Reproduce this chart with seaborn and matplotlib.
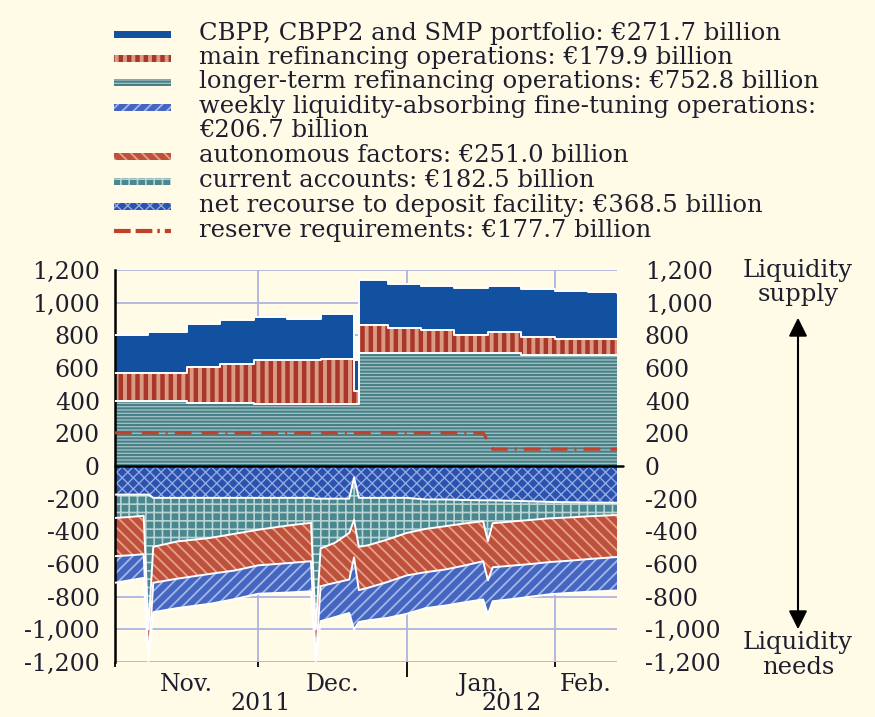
import matplotlib
matplotlib.use("Agg")
import matplotlib.pyplot as plt
import matplotlib.dates as mdates
from matplotlib.patches import Rectangle
from matplotlib.lines import Line2D
import numpy as np
import pandas as pd
import seaborn as sns

# liquidity supply (EUR billions), value holds until the next date
supply_dates = pd.to_datetime([
    "2011-11-01", "2011-11-08", "2011-11-16", "2011-11-23", "2011-11-30",
    "2011-12-07", "2011-12-14", "2011-12-21", "2011-12-22", "2011-12-28",
    "2012-01-04", "2012-01-11", "2012-01-18", "2012-01-25", "2012-02-01",
    "2012-02-08", "2012-02-14"])
ltro = [397, 397, 387, 387, 381, 381, 377, 377, 689, 689, 689, 689, 689, 677, 677, 677, 677]
mro = [174, 174, 220, 239, 267, 267, 279, 83, 177, 153, 141, 116, 130, 114, 102, 102, 102]
cbpp = [234, 251, 260, 265, 263, 249, 272, 190, 272, 275, 271, 286, 286, 290, 292, 285, 282]

reserve_dates = pd.to_datetime(["2011-11-01", "2012-01-17", "2012-01-19", "2012-02-14"])
reserve_req = [203, 203, 103, 103]

# liquidity needs (EUR billions)
needs_dates = pd.to_datetime([
    "2011-11-01", "2011-11-04", "2011-11-07", "2011-11-08", "2011-11-09",
    "2011-11-14", "2011-11-21", "2011-11-26", "2011-12-01", "2011-12-07",
    "2011-12-12", "2011-12-13", "2011-12-14", "2011-12-17", "2011-12-20",
    "2011-12-21", "2011-12-22", "2011-12-24", "2011-12-28", "2012-01-01",
    "2012-01-05", "2012-01-09", "2012-01-13", "2012-01-17", "2012-01-18",
    "2012-01-19", "2012-01-23", "2012-01-27", "2012-01-31", "2012-02-04",
    "2012-02-08", "2012-02-14"])
deposit = [175, 175, 175, 175, 195, 195, 195, 195, 195, 195, 195, 200, 200, 200, 200, 70,
           195, 195, 195, 195, 205, 205, 208, 210, 210, 210, 213, 216, 220, 222, 224, 225]
current_acc = [143, 137, 130, 825, 300, 267, 245, 220, 195, 170, 153, 800, 305, 270, 210, 260,
               300, 290, 255, 215, 180, 164, 144, 128, 250, 140, 127, 114, 100, 93, 84, 75]
autonomous = [234, 235, 235, 190, 220, 228, 220, 225, 218, 230, 235, 190, 231, 245, 285, 230,
              265, 260, 260, 260, 265, 265, 258, 245, 240, 270, 270, 270, 268, 265, 262, 257]
fine_tuning = [163, 153, 145, 5, 180, 180, 183, 175, 174, 180, 184, 5, 214, 210, 205, 440,
               195, 200, 220, 235, 220, 221, 225, 234, 209, 208, 205, 200, 197, 197, 200, 205]

legend_labels = [
    "CBPP, CBPP2 and SMP portfolio: \u20ac271.7 billion",
    "main refinancing operations: \u20ac179.9 billion",
    "longer-term refinancing operations: \u20ac752.8 billion",
    "weekly liquidity-absorbing fine-tuning operations:\n\u20ac206.7 billion",
    "autonomous factors: \u20ac251.0 billion",
    "current accounts: \u20ac182.5 billion",
    "net recourse to deposit facility: \u20ac368.5 billion",
    "reserve requirements: \u20ac177.7 billion",
]
month_labels = ["Nov.", "Dec.", "Jan.", "Feb."]
year_labels = ["2011", "2012"]

BG = "#FFFBE6"
TXT = "#1E1E2E"
GRID = "#AEB4E2"

# (face, hatch colour, hatch, hatch linewidth)
styles = {
    "cbpp": ("#1250A0", "#1250A0", None, 1.0),
    "mro": ("#DB9A84", "#A8372A", "||", 3.2),
    "ltro": ("#9EBDC1", "#457F85", "-----", 1.4),
    "fto": ("#4466C0", "#A3B6E8", "///", 1.3),
    "af": ("#BE513C", "#E6A08A", "\\\\\\", 1.3),
    "ca": ("#4A878E", "#B9D2D2", "++", 1.2),
    "df": ("#2A52AE", "#93A9E0", "xxx", 1.0),
}

sns.set_theme(style="white", rc={"figure.facecolor": BG, "axes.facecolor": BG,
                                 "savefig.facecolor": BG})
plt.rcParams["font.family"] = ["DejaVu Serif"]
plt.rcParams["hatch.linewidth"] = 1.3

W, H = 875, 717
fig = plt.figure(figsize=(W / 100, H / 100), dpi=100)
ax = fig.add_axes([115 / W, 1 - 662 / H, 502 / W, 392 / H])
ax.set_axisbelow(True)


def set_hatch_lw(artist, lw):
    if hasattr(artist, "set_hatch_linewidth"):
        artist.set_hatch_linewidth(lw)


def hatched(x, lo, hi, key, step=None):
    face, hc, hatch, hlw = styles[key]
    pc = ax.fill_between(x, lo, hi, step=step, facecolor=face, edgecolor=hc,
                         hatch=hatch, linewidth=0, zorder=2)
    set_hatch_lw(pc, hlw)


# supply side, stacked upwards
lv1 = np.array(ltro)
lv2 = lv1 + np.array(mro)
lv3 = lv2 + np.array(cbpp)
hatched(supply_dates, 0, lv1, "ltro", step="post")
hatched(supply_dates, lv1, lv2, "mro", step="post")
hatched(supply_dates, lv2, lv3, "cbpp", step="post")
for lv in (lv1, lv2, lv3):
    ax.plot(supply_dates, lv, drawstyle="steps-post", color="white", lw=1.4, zorder=3)

# needs side, stacked downwards
b1 = -np.array(deposit)
b2 = b1 - np.array(current_acc)
b3 = b2 - np.array(autonomous)
b4 = b3 - np.array(fine_tuning)
hatched(needs_dates, 0, b1, "df")
hatched(needs_dates, b1, b2, "ca")
hatched(needs_dates, b2, b3, "af")
hatched(needs_dates, b3, b4, "fto")
for b in (b1, b2, b3, b4):
    ax.plot(needs_dates, b, color="white", lw=1.4, zorder=3)

sns.lineplot(x=reserve_dates, y=reserve_req, ax=ax, color="#C0402A", lw=2.2,
             linestyle=(0, (5.5, 3.3, 5.5, 2.3, 0.65, 2.3)), zorder=4)

ax.axhline(0, xmin=0, xmax=1.012, color="black", lw=1.8, zorder=5, clip_on=False)

x0, x1 = pd.Timestamp("2011-11-01"), pd.Timestamp("2012-02-14")
ax.set_xlim(x0, x1)
ax.set_ylim(-1200, 1200)
ax.set_xlabel("")
ax.set_ylabel("")

yt = list(range(-1200, 1201, 200))
ax.set_yticks(yt)
ax.set_yticklabels([f"{v:,}" for v in yt])
ax.tick_params(axis="y", length=0, pad=10.8, labelsize=17, labelcolor=TXT)

bounds = pd.to_datetime(["2011-11-01", "2011-12-01", "2012-01-01", "2012-02-01"])
ax.set_xticks(bounds)
ax.set_xticklabels([""] * len(bounds))
ax.tick_params(axis="x", which="major", direction="out", length=3.5, width=1.3,
               color="black", bottom=True)
ax.xaxis.get_major_ticks()[2].tick1line.set_markersize(11)

edges = [mdates.date2num(d) for d in list(bounds) + [x1]]
mids = [(a + b) / 2 for a, b in zip(edges[:-1], edges[1:])]
ax.set_xticks(mids, minor=True)
ax.set_xticklabels(month_labels, minor=True)
ax.tick_params(axis="x", which="minor", length=0, pad=8, labelsize=17, labelcolor=TXT)

year_edges = [edges[0], edges[2], edges[-1]]
for lab, a, b in zip(year_labels, year_edges[:-1], year_edges[1:]):
    ax.text((a + b) / 2, -0.105, lab, transform=ax.get_xaxis_transform(),
            ha="center", va="center", fontsize=17, color=TXT)

ax.grid(True, axis="both", which="major", color=GRID, lw=1.3, zorder=0)
for s in ("top", "right", "bottom"):
    ax.spines[s].set_visible(False)
ax.spines["left"].set_color("black")
ax.spines["left"].set_linewidth(1.8)

ax2 = ax.twinx()
ax2.set_ylim(-1200, 1200)
ax2.set_yticks(yt)
ax2.set_yticklabels([f"{v:,}" for v in yt])
ax2.tick_params(axis="y", length=0, pad=20, labelsize=17, labelcolor=TXT)
ax2.grid(False)
for s in ax2.spines.values():
    s.set_visible(False)

# side captions and arrow
fig.text(798 / W, 1 - 270 / H, "Liquidity", ha="center", va="center", fontsize=17.5, color=TXT)
fig.text(798 / W, 1 - 295 / H, "supply", ha="center", va="center", fontsize=17.5, color=TXT)
fig.text(798 / W, 1 - 642 / H, "Liquidity", ha="center", va="center", fontsize=17.5, color=TXT)
fig.text(798 / W, 1 - 667 / H, "needs", ha="center", va="center", fontsize=17.5, color=TXT)
ax.annotate("", xy=(798, H - 315), xytext=(798, H - 632), xycoords="figure pixels",
            textcoords="figure pixels", annotation_clip=False,
            arrowprops=dict(arrowstyle="<|-|>", color="black", lw=1.5, mutation_scale=28))

# legend drawn by hand
rows = [34, 58, 82, 107, 156, 181, 206, 231]
keys = ["cbpp", "mro", "ltro", "fto", "af", "ca", "df"]
for yc, key in zip(rows, keys):
    face, hc, hatch, hlw = styles[key]
    r = Rectangle((114 / W, 1 - (yc + 3.5) / H), 57 / W, 7 / H,
                  transform=fig.transFigure, facecolor=face, edgecolor=hc,
                  hatch=hatch, linewidth=0)
    set_hatch_lw(r, hlw)
    fig.add_artist(r)
fig.add_artist(Line2D([114 / W, 171 / W], [1 - rows[7] / H] * 2, transform=fig.transFigure,
                      color="#C0402A", lw=3, linestyle=(0, (4, 1.2, 4, 1.2, 0.6, 1.2))))
for yc, lab in zip(rows, legend_labels):
    fig.text(199 / W, 1 - (yc - 12) / H, lab, ha="left", va="top", fontsize=17.5,
             color=TXT, linespacing=1.08)

fig.savefig("out.png", dpi=100, facecolor=BG)
